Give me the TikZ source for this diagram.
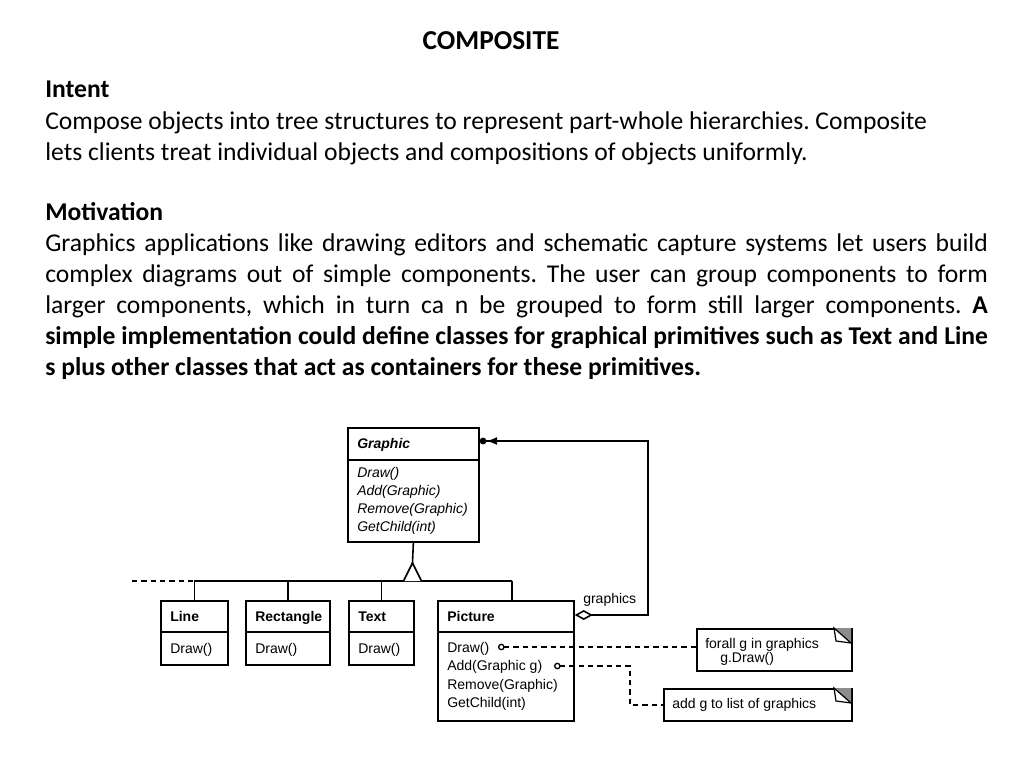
\documentclass[tikz,border=0pt]{standalone}
\usepackage{fontspec}
\setmainfont{Carlito}
\newfontfamily\umlfont{Liberation Sans}
\usetikzlibrary{arrows.meta,calc}
\frenchspacing
\def\umlbox(#1)(#2,#3)(#4,#5)(#6){%
	\node[cls, minimum width={(#4-#2)*0.75pt}, minimum height={(#5-#3)*0.75pt}] (#1) at (#2,#3) {};
	\draw[line width=1.3pt] (#2,#6) -- (#4,#6);}
\def\umlnote(#1)(#2,#3)(#4,#5){%
	\node[cls, minimum width={(#4-#2)*0.75pt}, minimum height={(#5-#3)*0.75pt}] (#1) at (#2,#3) {};
	\fill[black!45] (#4-17,#3) -- (#4,#3) -- (#4,#3+15) -- cycle;
	\draw[line width=0.9pt, fill=white] (#4-17,#3) -- (#4-15,#3+13) -- (#4,#3+15) -- cycle;}

\begin{document}
\begin{tikzpicture}[x=0.75pt, y=-0.75pt,
		cls/.style={draw, line width=1.3pt, inner sep=0, anchor=north west},
		uml/.style={anchor=west, inner sep=0, text height=7.6pt, text depth=0pt, font=\umlfont\fontsize{10.5}{13.5}\selectfont},
		umlb/.style={uml, font=\umlfont\bfseries\fontsize{10.5}{13.5}\selectfont},
		head/.style={anchor=base west, inner sep=0, font=\bfseries\fontsize{19.2}{23.25}\selectfont},
		body/.style={anchor=base west, inner sep=0, font=\fontsize{19.2}{23.25}\selectfont},
		wire/.style={line width=1.2pt},
		dashwire/.style={line width=1pt, dash pattern=on 4pt off 3pt}]
	%%%%% START %%%%%
	\useasboundingbox (0,0) rectangle (1024,768);
	
	\node[head, anchor=base, font=\bfseries\fontsize{20.5}{24}\selectfont] (title) at (491,49) {COMPOSITE};
	
	\node[head] (intent) at (45,97) {Intent};
	\node[body] (intent1) at (45,129) {Compose objects into tree structures to represent part-whole hierarchies. Composite};
	\node[body] (intent2) at (45,160) {lets clients treat individual objects and compositions of objects uniformly.};
	
	\node[head] (motiv) at (45,220) {Motivation};
	\node[body, anchor=north west, text width=707pt, align=justify] (motivtxt) at (45,233) {\tolerance=9999 Graphics applications like drawing editors and schematic capture systems let users build\linebreak
		complex diagrams out of simple components. The user can group components to form\linebreak
		larger components, which in turn ca n be grouped to form still larger components. \textbf{A}\linebreak
		\textbf{simple implementation could define classes for graphical primitives such as Text and Line}\linebreak
		\textbf{s plus other classes that act as containers for these primitives.}};
	
	%% classes
	\umlbox(graphic)(347,427)(478,541)(460)
	\node[uml, font=\umlfont\bfseries\itshape\fontsize{10.5}{13.5}\selectfont] (graphicname) at (357,443) {Graphic};
	\node[uml, font=\umlfont\itshape\fontsize{10.5}{13.5}\selectfont] (gdraw) at (357,472) {Draw()};
	\node[uml, font=\umlfont\itshape\fontsize{10.5}{13.5}\selectfont] (gadd) at (357,490) {Add(Graphic)};
	\node[uml, font=\umlfont\itshape\fontsize{10.5}{13.5}\selectfont] (gremove) at (357,508) {Remove(Graphic)};
	\node[uml, font=\umlfont\itshape\fontsize{10.5}{13.5}\selectfont] (gchild) at (357,526) {GetChild(int)};
	
	\umlbox(line)(160,600)(227,664)(632)
	\node[umlb] (linename) at (170,616) {Line};
	\node[uml] (lineops) at (170,648) {Draw()};
	
	\umlbox(rect)(245,600)(329,664)(632)
	\node[umlb] (rectname) at (255,616) {Rectangle};
	\node[uml] (rectops) at (255,648) {Draw()};
	
	\umlbox(text)(348,600)(413,664)(632)
	\node[umlb] (textname) at (358,616) {Text};
	\node[uml] (textops) at (358,648) {Draw()};
	
	\umlbox(picture)(437,600)(573,720)(632)
	\node[umlb] (picturename) at (447,616) {Picture};
	\node[uml] (picdraw) at (447,647) {Draw()};
	\node[uml] (picadd) at (447,665) {Add(Graphic g)};
	\node[uml] (picremove) at (447,684) {Remove(Graphic)};
	\node[uml] (picchild) at (447,702) {GetChild(int)};
	
	%% notes
	\umlnote(drawnote)(696,628)(851,670)
	\node[uml] (drawnotetxt1) at (705,643) {forall g in graphics};
	\node[uml] (drawnotetxt2) at (720,657) {g.Draw()};
	\umlnote(addnote)(663,688)(851,720)
	\node[uml] (addnotetxt) at (672,703) {add g to list of graphics};
	
	%% inheritance
	\draw[wire] (graphic.south) -- (412.5,563);
	\draw[wire] (line.north |- 0,581) -- (512,581);
	\draw[dashwire] (132,581) -- (line.north |- 0,581);
	\draw[wire, fill=white] (403.5,581) -- (412.5,563) -- (421.5,581);
	\draw[wire] (line.north |- 0,581) -- (line.north);
	\draw[wire] (rect.north |- 0,581) -- (rect.north);
	\draw[wire] (text.north |- 0,581) -- (text.north);
	\draw[wire] (512,581) -- (picture.north -| 512,0);
	
	%% aggregation
	\draw[wire, {Diamond[open, length=13.5pt, width=7.5pt]}-{Latex[length=8pt, width=6pt] Circle[length=5pt]}] (picture.east |- 0,615) -- (648,615) -- (648,441) -- (graphic.east |- 0,441);
	\node[uml] (graphicslbl) at (583,598) {graphics};
	
	%% note links
	\draw[dashwire, {Circle[open, length=5pt]}-] (498,647) -- (drawnote.west |- 0,647);
	\draw[dashwire, {Circle[open, length=5pt]}-] (554,666) -- (630,666) |- (addnote.west);
	
	%%%%% END %%%%%
\end{tikzpicture}
\end{document}
